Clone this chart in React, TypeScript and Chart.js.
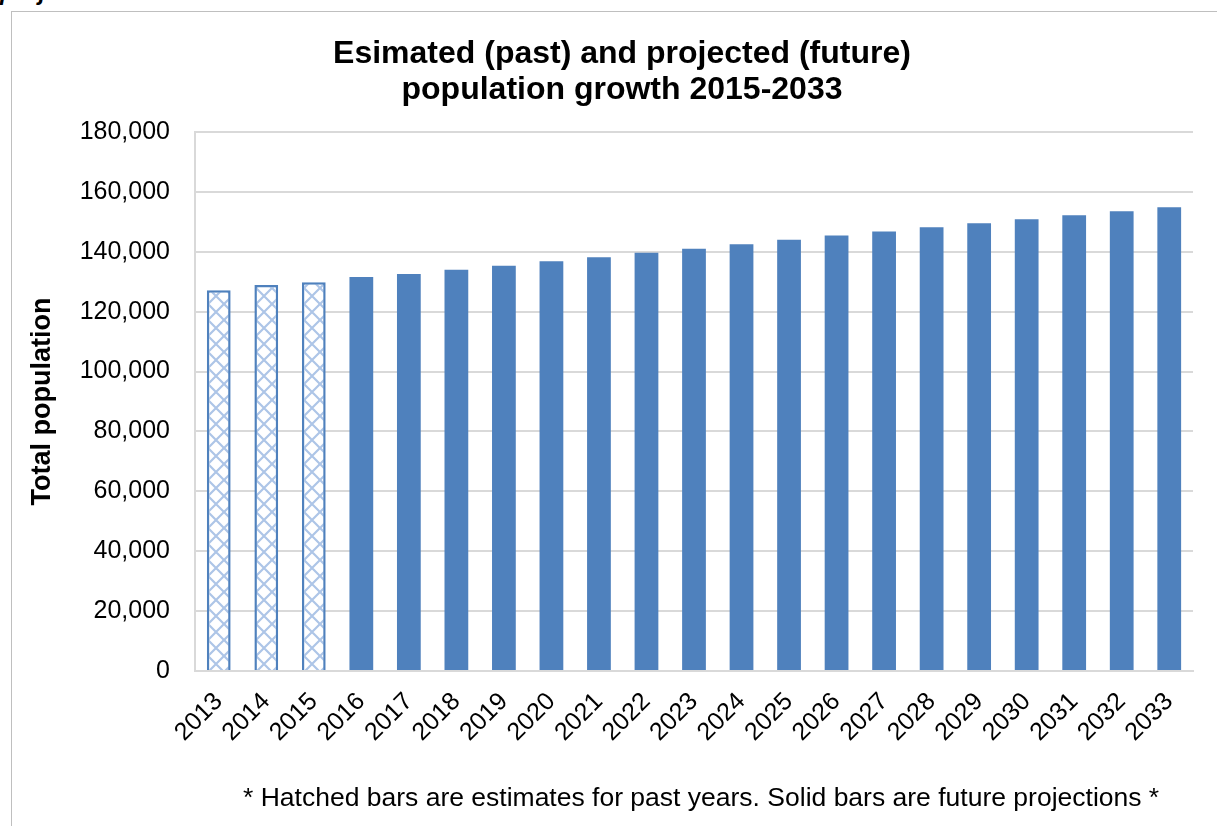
import React, { useEffect, useRef } from 'react';
import { Chart, registerables } from 'chart.js';

Chart.register(...registerables);

const years = ['2013','2014','2015','2016','2017','2018','2019','2020','2021','2022','2023','2024','2025','2026','2027','2028','2029','2030','2031','2032','2033'];
const estimates = [127150, 128900, 129800];
const projections = [131600, 132600, 134000, 135350, 136800, 138150, 139700, 141000, 142550, 144000, 145450, 146800, 148150, 149550, 150900, 152200, 153550, 154900];
const yTicks = [0, 20000, 40000, 60000, 80000, 100000, 120000, 140000, 160000, 180000];

const titleLines = ['Esimated (past) and projected (future)', 'population growth 2015-2033'];
const yTitle = 'Total population';
const footnote = '* Hatched bars are estimates for past years. Solid bars are future projections *';

function makeHatch(): CanvasPattern | string {
  const c = document.createElement('canvas');
  const s = 16;
  c.width = s; c.height = s;
  const g = c.getContext('2d');
  if (!g) return '#ffffff';
  g.fillStyle = '#ffffff';
  g.fillRect(0, 0, s, s);
  g.strokeStyle = '#adc5e7';
  g.lineWidth = 2.2;
  g.beginPath();
  g.moveTo(-2, -2); g.lineTo(s + 2, s + 2);
  g.moveTo(s + 2, -2); g.lineTo(-2, s + 2);
  g.stroke();
  const p = g.createPattern(c, 'repeat');
  return p || '#ffffff';
}

export default function App() {
  const ref = useRef<HTMLCanvasElement | null>(null);
  useEffect(() => {
    document.body.style.margin = '0';
    const canvas = ref.current;
    if (!canvas) return;
    const nEst = estimates.length;
    const estData = years.map((_, i) => (i < nEst ? estimates[i] : null));
    const projData = years.map((_, i) => (i >= nEst ? projections[i - nEst] : null));
    const hatch = makeHatch();
    const chart = new Chart(canvas, {
      type: 'bar',
      data: {
        labels: years,
        datasets: [
          {
            label: 'Estimates',
            data: estData,
            backgroundColor: hatch as any,
            borderColor: '#4f81bd',
            borderWidth: 2.5,
            borderSkipped: 'bottom',
          },
          {
            label: 'Projections',
            data: projData,
            backgroundColor: '#4f81bd',
            borderWidth: 0,
          },
        ],
      },
      options: {
        responsive: false,
        animation: false,
        datasets: { bar: { grouped: false, barPercentage: 0.5, categoryPercentage: 1 } } as any,
        layout: { padding: { top: 132, right: 24, left: 0, bottom: 0 } },
        plugins: { legend: { display: false }, title: { display: false }, tooltip: { enabled: false } },
        scales: {
          x: {
            grid: { display: false },
            border: { display: true, color: '#d9d9d9', width: 2 },
            ticks: {
              autoSkip: false,
              minRotation: 45,
              maxRotation: 45,
              padding: 8,
              color: '#000000',
              font: { family: '"Liberation Sans", Arial, sans-serif', size: 25 },
            },
            afterFit: (s: any) => { s.height = 155; },
          },
          y: {
            min: 0,
            max: 180000,
            afterBuildTicks: (s: any) => { s.ticks = yTicks.map((v) => ({ value: v })); },
            grid: { color: '#d9d9d9', lineWidth: 2, drawTicks: false },
            border: { display: true, color: '#d9d9d9', width: 2 },
            ticks: {
              padding: 25,
              color: '#000000',
              font: { family: '"Liberation Sans", Arial, sans-serif', size: 25 },
              callback: (v: any) => Number(v).toLocaleString('en-US'),
            },
            title: {
              display: true,
              text: yTitle,
              color: '#000000',
              padding: { top: 26, bottom: 0 },
              font: { family: '"Liberation Sans", Arial, sans-serif', size: 27, weight: 'bold' },
            },
            afterFit: (s: any) => { s.width = 195; },
          },
        },
      },
    });
    return () => chart.destroy();
  }, []);

  return (
    <div style={{ position: 'relative', width: 1217, height: 826, overflow: 'hidden', background: '#ffffff', fontFamily: '"Liberation Sans", Arial, sans-serif' }}>
      <div style={{ position: 'absolute', left: 0, top: -22, fontSize: 24, fontStyle: 'italic', fontWeight: 'bold', color: '#000' }}>projections</div>
      <div style={{ position: 'absolute', left: 11, top: 11, width: 1240, height: 840, border: '1.5px solid #bfbfbf', boxSizing: 'border-box' }} />
      <canvas ref={ref} width={1217} height={826} style={{ position: 'absolute', left: 0, top: 0, display: 'block' }} />
      <div style={{ position: 'absolute', left: 11, width: 1222, top: 34, textAlign: 'center', fontWeight: 'bold', fontSize: 32, lineHeight: '36px', color: '#000' }}>
        {titleLines.map((t) => (<div key={t}>{t}</div>))}
      </div>
      <div style={{ position: 'absolute', left: 243, top: 781, whiteSpace: 'nowrap', fontSize: 26.5, lineHeight: '32px', color: '#000' }}>{footnote}</div>
    </div>
  );
}
